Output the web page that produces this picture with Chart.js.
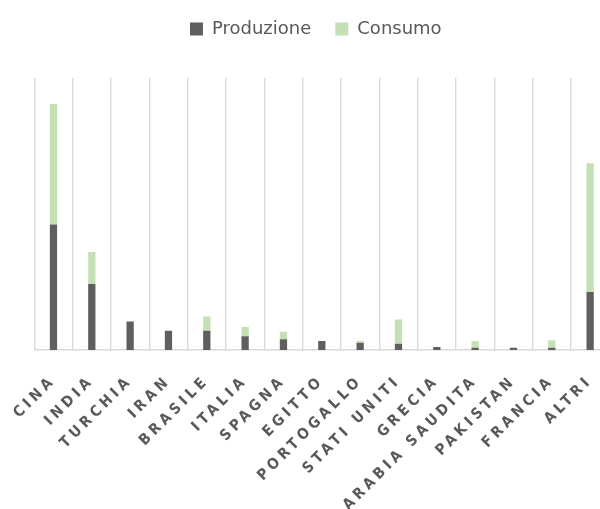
<!DOCTYPE html>
<html>
<head>
<meta charset="utf-8">
<script src="https://cdn.jsdelivr.net/npm/chart.js@4/dist/chart.umd.min.js"></script>
<style>
  html, body { margin: 0; padding: 0; background: #fff; overflow: hidden; }
  #wrap { position: relative; width: 612px; height: 509px; }
</style>
</head>
<body>
<div id="wrap"><canvas id="c"></canvas></div>
<script>
const categories = ["CINA", "INDIA", "TURCHIA", "IRAN", "BRASILE", "ITALIA", "SPAGNA", "EGITTO", "PORTOGALLO", "STATI UNITI", "GRECIA", "ARABIA SAUDITA", "PAKISTAN", "FRANCIA", "ALTRI"];
const produzione = [125, 65.7, 28.3, 19.3, 19.3, 13.7, 10.7, 9, 7.3, 6.3, 3, 2.3, 2.3, 2.3, 57.7];
const consumo = [120, 32, 0, 0, 14, 9.3, 7.6, 0, 1.7, 24, 0, 6.7, 0, 7.4, 128.3];
const yMax = 271;

const tweaks = {
  id: 'tweaks',
  afterInit(chart) {
    const lg = chart.legend;
    if (lg && !lg._patched) {
      const of = lg.fit.bind(lg);
      lg.fit = function () { of(); this.height += 30; };
      lg._patched = true;
    }
  },
  afterLayout(chart) {
    const lg = chart.legend;
    if (lg) { lg.left -= 6; lg.right -= 6; }
    const sx = chart.scales.x;
    if (sx && !sx._spaced) {
      const orig = sx.drawLabels.bind(sx);
      sx.drawLabels = function (area) {
        const c = this.ctx;
        const prev = c.letterSpacing;
        c.letterSpacing = '4px';
        orig(area);
        c.letterSpacing = prev || '0px';
      };
      sx._spaced = true;
    }
  }
};

new Chart(document.getElementById('c'), {
  type: 'bar',
  data: {
    labels: categories,
    datasets: [
      { label: 'Produzione', data: produzione, backgroundColor: '#5f5f5f', stack: 's' },
      { label: 'Consumo', data: consumo, backgroundColor: '#c5e0b4', stack: 's' }
    ]
  },
  options: {
    responsive: true,
    maintainAspectRatio: false,
    animation: false,
    layout: { padding: { left: 34.3, right: 2.7, top: -4, bottom: 0 } },
    datasets: { bar: { categoryPercentage: 1, barPercentage: 0.19 } },
    plugins: {
      tooltip: { enabled: false },
      legend: {
        position: 'top',
        labels: {
          boxWidth: 13, boxHeight: 13, padding: 24,
          color: '#595959',
          font: { family: 'DejaVu Sans', size: 18 }
        }
      }
    },
    scales: {
      x: {
        stacked: true,
        grid: { color: '#d9d9d9', lineWidth: 1.4, drawTicks: false, offset: true },
        border: { color: '#d9d9d9', width: 1.5 },
        afterFit(s) { s.height = 159; s.paddingLeft = 0; s.paddingRight = 0; },
        ticks: {
          autoSkip: false, maxRotation: 45, minRotation: 45, padding: 22,
          color: '#595959',
          font: { family: 'DejaVu Sans Condensed', size: 15, weight: 'bold' }
        }
      },
      y: {
        stacked: true, display: false, min: 0, max: yMax
      }
    }
  },
  plugins: [tweaks]
});
</script>
</body>
</html>
